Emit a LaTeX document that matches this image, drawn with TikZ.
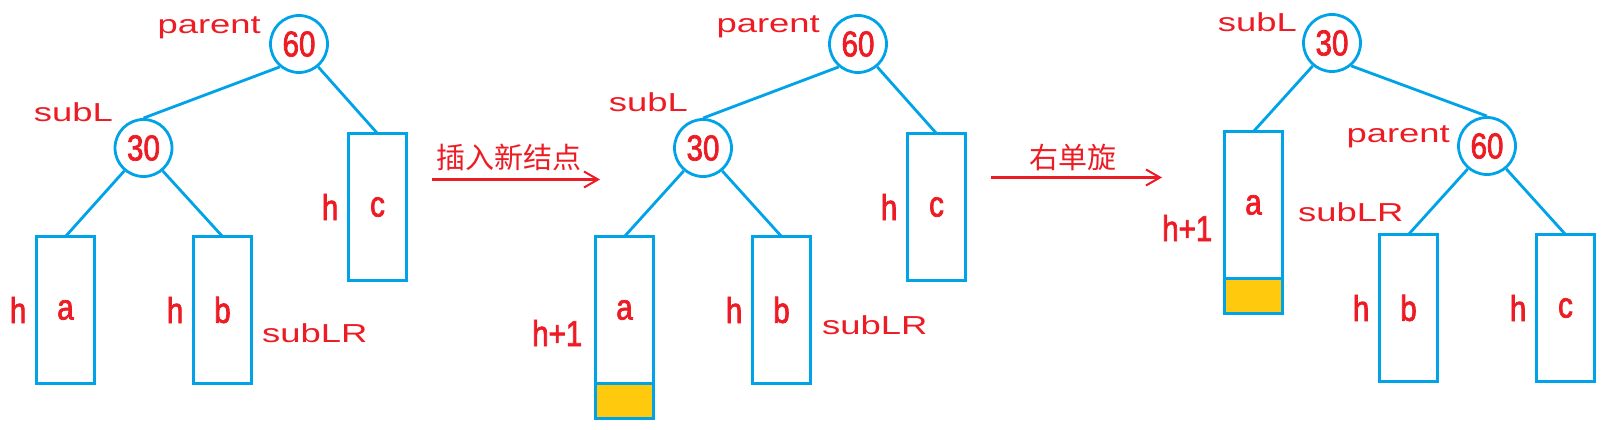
\documentclass[tikz,border=0pt]{standalone}
\usepackage{fontspec}
\usepackage{xcolor}
\usetikzlibrary{positioning,arrows.meta}
\newfontfamily\valfont{Liberation Sans}[FakeStretch=0.82,FakeBold=2]
\newfontfamily\namefont{Liberation Sans}[FakeStretch=1.4]
\newfontfamily\cjkfont{Noto Sans CJK SC}
\definecolor{treeblue}{RGB}{0,162,232}
\definecolor{labelred}{RGB}{237,28,36}
\definecolor{growyellow}{RGB}{255,201,14}

\begin{document}
\begin{tikzpicture}[
    x=1pt, y=-1pt,
    valnode/.style ={
        circle, draw=treeblue, line width=2.8pt,
        minimum size=57pt, inner sep=0pt,
        text=labelred, font=\valfont\fontsize{36}{40}\selectfont,
    },
    subtree/.style ={
        rectangle, draw=treeblue, line width=3pt,
        minimum width=58pt, minimum height=147pt, outer sep=0pt,
        text=labelred, font=\valfont\fontsize{36}{40}\selectfont,
    },
    grown/.style ={
        rectangle, draw=treeblue, fill=growyellow, line width=3pt,
        minimum width=58pt, minimum height=35pt, outer sep=0pt, anchor=north,
    },
    hlabel/.style ={
        inner sep=0pt, text=labelred,
        font=\valfont\fontsize{36}{40}\selectfont,
    },
    ptrlabel/.style ={
        inner sep=0pt, text=labelred,
        font=\namefont\fontsize{26}{30}\selectfont,
    },
    branch/.style ={draw=treeblue, line width=2.8pt},
    steparrow/.style ={
        draw=labelred, line width=3pt,
        -{Straight Barb[length=14pt,width=16pt,line width=2pt]},
    },
    steptext/.style ={
        inner sep=0pt, text=labelred,
        font=\cjkfont\fontsize{29}{32}\selectfont,
    },
    ]
    \useasboundingbox (0,0) rectangle (1610,430);

    \node[valnode] (60-1) at (299,44) {60};
    \node[valnode] (30-1) at (143.5,148) {30};
    \node[subtree] (a-1) at (65.5,310) {a};
    \node[subtree] (b-1) at (222.5,310) {b};
    \node[subtree] (c-1) at (377.5,207) {c};
    \node[hlabel, left=10pt of a-1] (ha-1) {h};
    \node[hlabel, left=10pt of b-1] (hb-1) {h};
    \node[hlabel, left=10pt of c-1] (hc-1) {h};
    \node[ptrlabel, anchor=base east] (parent-1) at (261,33.5) {parent};
    \node[ptrlabel, anchor=base east] (subL-1) at (113,122) {subL};
    \node[ptrlabel, anchor=base west] (subLR-1) at (262,343) {subLR};
    \draw[branch] (60-1.-130) -- (30-1.north);
    \draw[branch] (60-1.-50) -- (c-1.north);
    \draw[branch] (30-1.-130) -- (a-1.north);
    \draw[branch] (30-1.-50) -- (b-1.north);

    \node[steptext] (insert) at (508.5,157) {插入新结点};
    \coordinate (insert-from) at (432,179.5);
    \coordinate (insert-to) at (600,179.5);
    \draw[steparrow] (insert-from) -- (insert-to);

    \node[valnode] (60-2) at (858,44) {60};
    \node[valnode] (30-2) at (703,148) {30};
    \node[subtree] (a-2) at (624.5,310) {a};
    \node[grown] (new-2) at (a-2.south) {};
    \node[subtree] (b-2) at (781.5,310) {b};
    \node[subtree] (c-2) at (936.5,207) {c};
    \node[hlabel, left=13pt of a-2, yshift=-23pt] (ha-2) {h+1};
    \node[hlabel, left=10pt of b-2] (hb-2) {h};
    \node[hlabel, left=10pt of c-2] (hc-2) {h};
    \node[ptrlabel, anchor=base east] (parent-2) at (820,33) {parent};
    \node[ptrlabel, anchor=base east] (subL-2) at (688,112) {subL};
    \node[ptrlabel, anchor=base west] (subLR-2) at (822,335) {subLR};
    \draw[branch] (60-2.-130) -- (30-2.north);
    \draw[branch] (60-2.-50) -- (c-2.north);
    \draw[branch] (30-2.-130) -- (a-2.north);
    \draw[branch] (30-2.-50) -- (b-2.north);

    \node[steptext] (rotate) at (1072.5,157) {右单旋};
    \coordinate (rotate-from) at (991,177.5);
    \coordinate (rotate-to) at (1162,177.5);
    \draw[steparrow] (rotate-from) -- (rotate-to);

    \node[valnode] (30-3) at (1332,43) {30};
    \node[valnode] (60-3) at (1487,146) {60};
    \node[subtree] (a-3) at (1253.5,205) {a};
    \node[grown] (new-3) at (a-3.south) {};
    \node[subtree] (b-3) at (1408.5,308) {b};
    \node[subtree] (c-3) at (1565.5,308) {c};
    \node[hlabel, left=12pt of a-3, yshift=-23pt] (ha-3) {h+1};
    \node[hlabel, left=10pt of b-3] (hb-3) {h};
    \node[hlabel, left=10pt of c-3] (hc-3) {h};
    \node[ptrlabel, anchor=base east] (subL-3) at (1297,32) {subL};
    \node[ptrlabel, anchor=base east] (parent-3) at (1450,143) {parent};
    \node[ptrlabel, anchor=base west] (subLR-3) at (1298,222) {subLR};
    \draw[branch] (30-3.-130) -- (a-3.north);
    \draw[branch] (30-3.-50) -- (60-3.north);
    \draw[branch] (60-3.-130) -- (b-3.north);
    \draw[branch] (60-3.-50) -- (c-3.north);

\end{tikzpicture}
\end{document}
